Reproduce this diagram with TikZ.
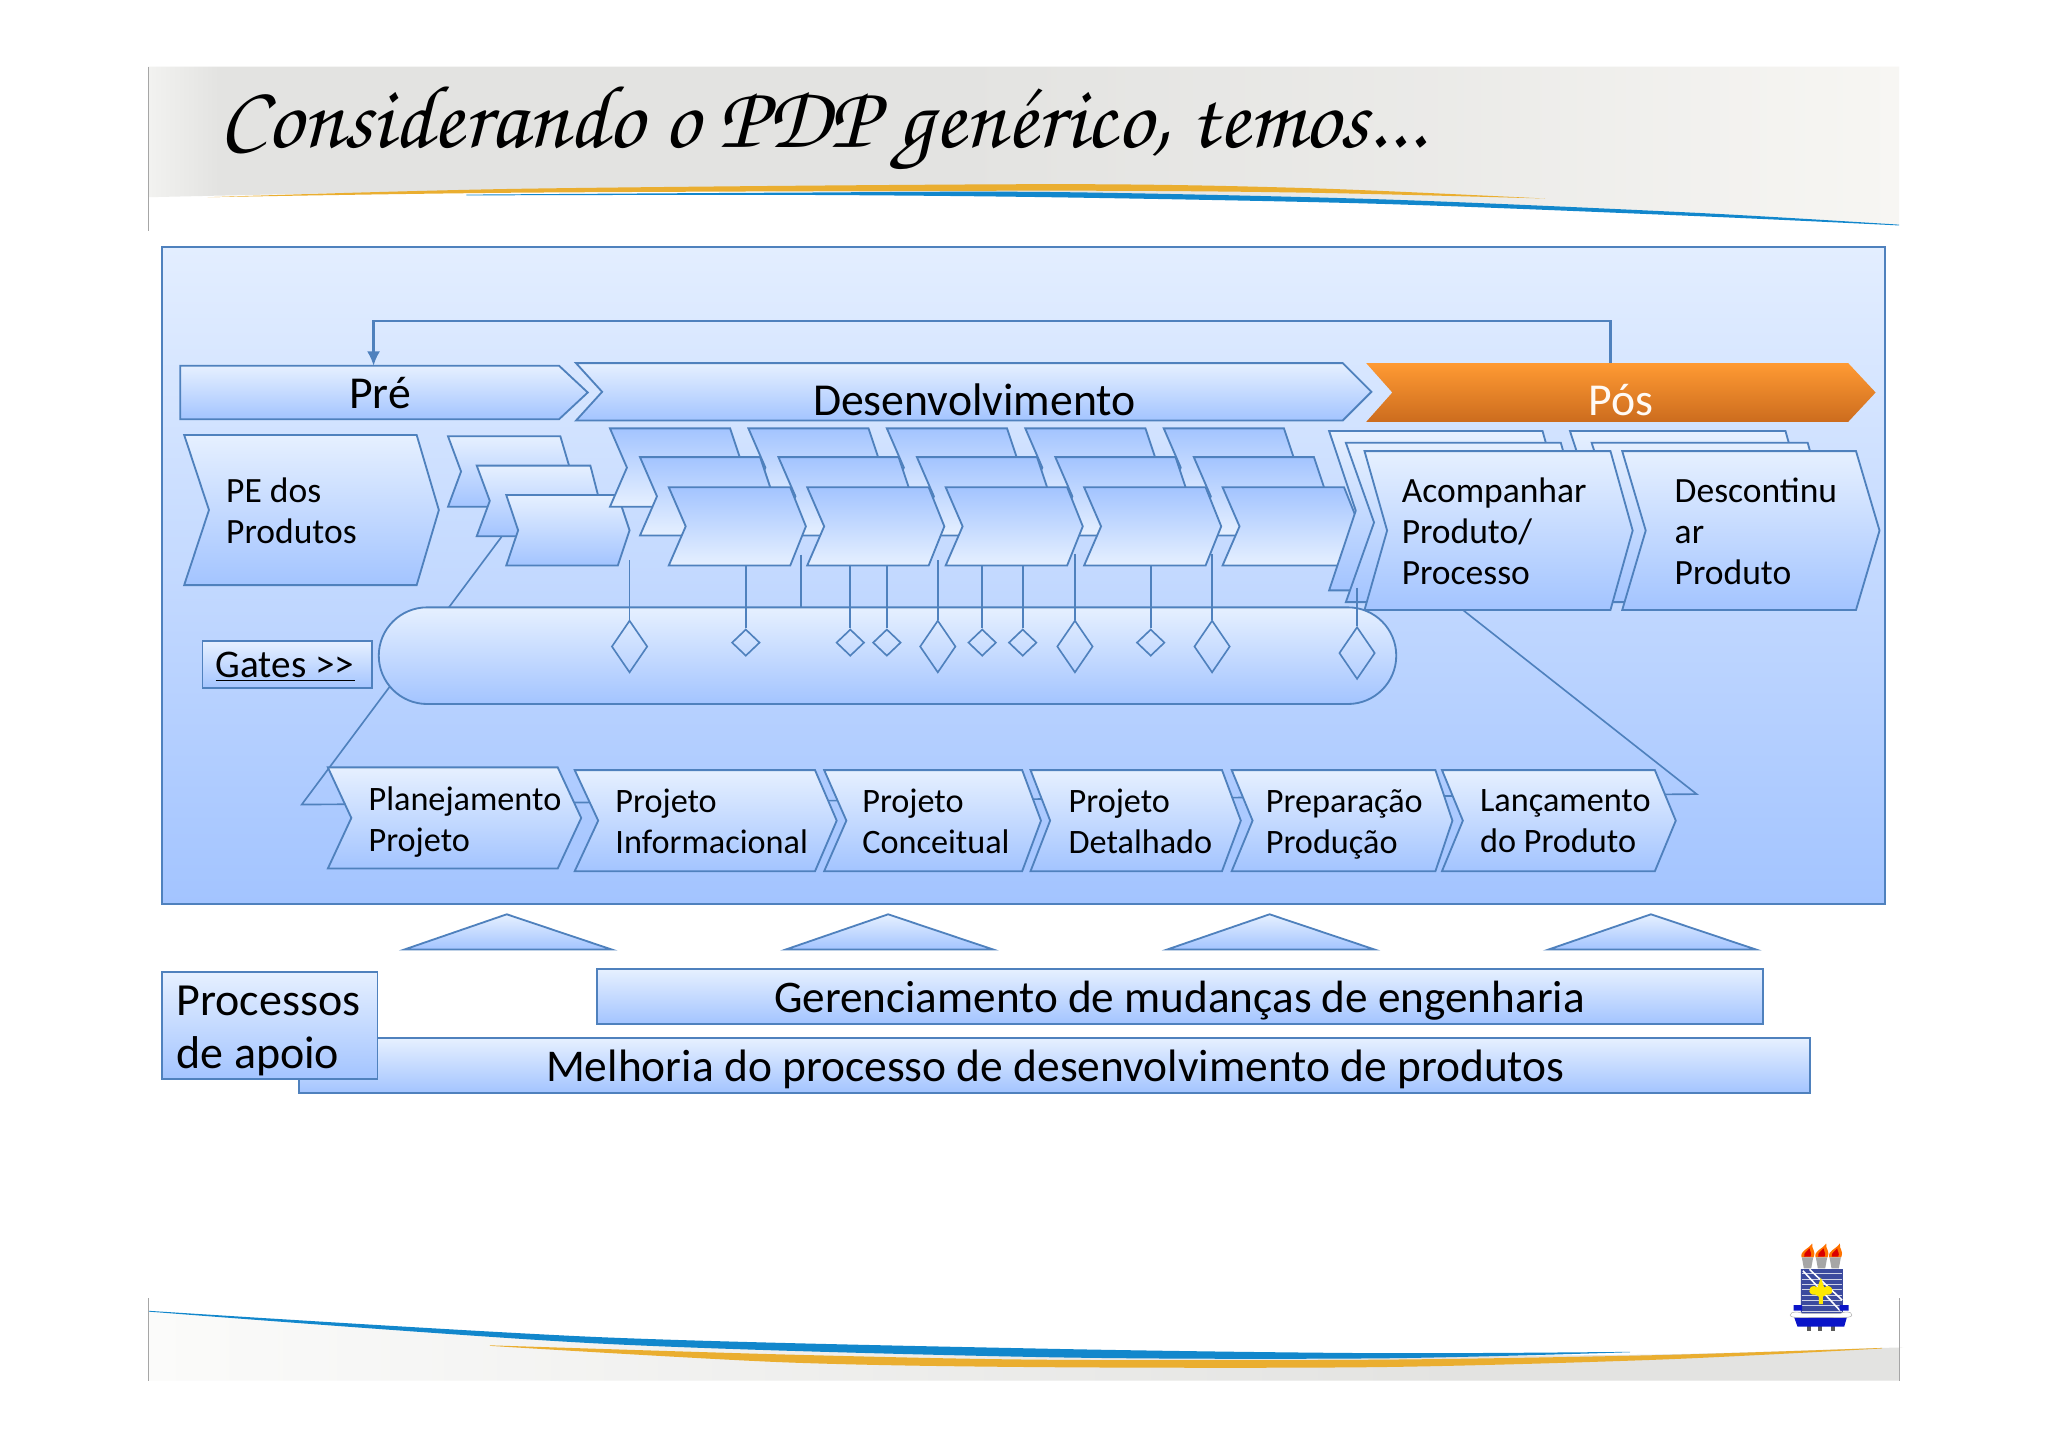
\documentclass[tikz,border=0pt]{standalone}
\usepackage{fontspec}
\setmainfont{Carlito}
\usepackage{graphicx}
\usetikzlibrary{shapes.geometric,arrows.meta,calc}
\definecolor{edge}{HTML}{4F81BD}
\definecolor{gLight}{HTML}{E6F0FF}
\definecolor{gDark}{HTML}{A3C4FF}
\definecolor{panelTop}{HTML}{E3EEFF}
\definecolor{bandA}{HTML}{F2F2F0}
\definecolor{bandLow}{HTML}{FBFBFA}
\definecolor{bandB}{HTML}{E3E3E1}
\definecolor{bandC}{HTML}{F7F6F3}
\definecolor{swBlue}{HTML}{1287CC}
\definecolor{swOrange}{HTML}{EAAE30}
\definecolor{shieldBlue}{HTML}{3B4A9E}
\definecolor{crestBlue}{HTML}{0A14C8}
\definecolor{hotTop}{HTML}{FF9A33}
\definecolor{hotBot}{HTML}{CC6C1E}
\pgfdeclarehorizontalshading{topband}{100bp}{color(0bp)=(bandA);color(25bp)=(bandA);color(27bp)=(bandB);color(48bp)=(bandB);color(62bp)=(bandB!60!bandC);color(75bp)=(bandC);color(100bp)=(bandC)}
\pgfdeclarehorizontalshading{lowband}{100bp}{color(0bp)=(bandLow);color(25bp)=(bandLow);color(45bp)=(bandLow!45!bandB);color(62bp)=(bandB);color(75bp)=(bandB);color(100bp)=(bandB)}
\newcommand{\fsz}[1]{\fontsize{#1}{1.22\dimexpr #1pt\relax}\selectfont}
\tikzset{
  flow/.style={draw=edge,line width=1.4pt,line join=miter,top color=gLight,bottom color=gDark},
  flowrev/.style={draw=edge,line width=1.4pt,top color=gDark,bottom color=gLight},
  flowhot/.style={draw=none,top color=hotTop,bottom color=hotBot},
  thin line/.style={draw=edge,line width=1.25pt},
  small gate/.style={diamond,draw=edge,line width=1.25pt,inner sep=0pt,minimum width=21.5pt,minimum height=20.5pt},
  big gate/.style={diamond,draw=edge,line width=1.25pt,inner sep=0pt,minimum width=27.5pt,minimum height=40pt},
  lbl/.style={inner sep=0pt,anchor=west,align=left,text=black,font=\fontsize{26.2}{31.4}\selectfont},
  lblbig/.style={lbl,font=\fontsize{27.2}{31.4}\selectfont},
  ttl/.style={inner sep=0pt,text=black,font=\fsz{35}},
}
% x0 x1 tip notch top bottom style
\newcommand{\chev}[7]{%
  \pgfmathsetmacro{\ymid}{(#5+#6)/2}%
  \path[#7] (#1,#5) -- (#2,#5) -- (#3,\ymid) -- (#2,#6) -- (#1,#6) -- (#4,\ymid) -- cycle;}
\begin{document}
\begin{tikzpicture}[x=1pt,y=-1pt]
\useasboundingbox (0,0) rectangle (1568,1108);
\fill[white] (0,0) rectangle (1568,1108);

% header band
\path[shading=topband] (114,51) -- (1454,51) -- plot[smooth] coordinates {(1454,172) (1300,163) (1054,153) (804,148) (400,146) (114,151)} -- cycle;
\fill[swOrange] plot[smooth] coordinates {(159,151) (400,144.5) (804,141) (1000,144) (1183,152)} -- plot[smooth] coordinates {(1183,152) (1000,147.5) (804,146) (400,147.5) (159,151)} -- cycle;
\fill[swBlue] plot[smooth] coordinates {(357,149) (600,147.5) (804,147) (1054,152.5) (1300,163) (1454,172)} -- plot[smooth] coordinates {(1454,172.6) (1300,165.5) (1054,156) (804,151) (600,149.2) (357,149.6)} -- cycle;
\draw[gray!70,line width=.8pt] (114,51) -- (114,177);
\node[inner sep=0pt,anchor=base west] (title) at (168,113) {\fontencoding{T1}\fontfamily{pzc}\fontseries{m}\fontshape{it}\fontsize{68.5}{80}\selectfont Considerando o PDP gen\'erico, temos...};

% footer band
\path[shading=lowband] plot[smooth] coordinates {(114,1004) (458,1026) (796,1036) (1054,1038) (1269,1037) (1441,1032) (1454,1032)} -- (1454,1057) -- (114,1057) -- cycle;
\fill[swBlue] plot[smooth] coordinates {(114,1003.6) (458,1023.7) (796,1032.5) (1054,1036) (1248,1035)} -- plot[smooth] coordinates {(1248,1035.3) (1054,1040) (796,1039) (458,1028.6) (114,1004.2)} -- cycle;
\fill[swOrange] plot[smooth] coordinates {(375,1030) (600,1037) (796,1041) (1054,1041) (1269,1037.5) (1441,1032)} -- plot[smooth] coordinates {(1441,1032.4) (1269,1041) (1054,1046.7) (796,1046.7) (600,1043) (375,1030.4)} -- cycle;
\draw[gray!70,line width=.8pt] (114,994) -- (114,1057) (1454,994) -- (1454,1057);

% crest
\begin{scope}[shift={(1301.7,918.8)},x=.2552pt,y=-.2552pt]
  \foreach \c in {322,364,405}{
    \fill[orange!90!red] (\c-18,172) .. controls (\c-22,150) and (\c,150) .. (\c+14,130) .. controls (\c+12,150) and (\c+26,150) .. (\c+18,172) -- cycle;
    \fill[red!85!black] (\c-10,170) .. controls (\c-12,155) and (\c,155) .. (\c+6,145) .. controls (\c+8,158) and (\c+14,158) .. (\c+9,170) -- cycle;
    \fill[gray!70] (\c-17,172) -- (\c+17,172) -- (\c+11,205) -- (\c-11,205) -- cycle;
  }
  \fill[shieldBlue] (302,207) rectangle (428,335) (302,335) -- (428,335) .. controls (428,350) and (400,350) .. (365,350) .. controls (330,350) and (302,350) .. (302,335) -- cycle;
  \foreach \yy in {220,236,252,268,284,300,316,332}{\draw[white!75!shieldBlue,line width=.35pt] (304,\yy) -- (426,\yy);}
  \draw[white,line width=1.2pt] (308,212) -- (420,332) (328,208) -- (426,300);
  \fill[yellow!90!orange] (362,232) -- (372,262) .. controls (398,245) and (408,288) .. (378,284) -- (368,290) -- (368,312) -- (356,312) -- (356,290) -- (346,284) .. controls (316,288) and (326,245) .. (352,262) -- cycle;
  \fill[crestBlue] (280,315) rectangle (306,332) (418,315) rectangle (445,332);
  \foreach \c in {327,360,397}{\fill[gray!70!black] (\c-6,378) rectangle (\c+6,392);}
  \fill[crestBlue] (282,352) -- (440,352) -- (432,380) -- (292,380) -- cycle;
  \fill[white,draw=gray!60,line width=.4pt] (270,345) .. controls (270,332) and (300,335) .. (306,340) -- (420,340) .. controls (430,335) and (455,332) .. (455,345) .. controls (455,355) and (420,352) .. (362,352) .. controls (305,352) and (270,355) .. (270,345) -- cycle;
\end{scope}

% main panel
\path[draw=edge,line width=1.6pt,top color=panelTop,bottom color=gDark] (124,189) rectangle (1443,692);

% feedback connector
\coordinate (posTop) at (1233,278);
\coordinate (preTop) at (286,280);
\draw[draw=edge,line width=1.7pt,-{Latex[length=11pt,width=10pt]}] (posTop) -- (1233,246) -- (286,246) -- (preTop);

% band arrows
\chev{138}{428}{450}{138}{280}{321}{flow}
\chev{441}{1028}{1050}{461}{278}{322}{flow}
\chev{1046}{1415}{1436}{1066}{278}{323}{flowhot}
\node[ttl] (pre) at (291,301) {Pré};
\node[ttl] (dev) at (746,306) {Desenvolvimento};
\node[ttl,text=white!96!orange] (pos) at (1241,306) {Pós};

% funnel lines
\draw[thin line] (384,411) -- (231,616) -- (1299,608) -- (1120,467);

% PE
\chev{141}{319}{336}{160}{333}{448}{flow}
\node[lblbig] (pe) at (173,391) {PE dos\\Produtos};

% first stack
\chev{343}{429}{437}{353}{334}{388}{flow}
\chev{365}{452}{459}{375}{356.5}{410.5}{flow}
\chev{387.6}{473}{482}{396.7}{379}{433}{flow}

% pill
\path[flow,rounded corners=37pt] (290,465) rectangle (1069,539);

% five columns
\foreach \x in {467,573,679,785,891}{\chev{\x}{\x+92}{\x+102}{\x+13}{328}{388}{flowrev}}
\foreach \x in {490,596,702,808,914}{\chev{\x}{\x+92}{\x+102}{\x+13}{350}{410}{flowrev}}
\foreach \x in {512,618,724,830,936}{\chev{\x}{\x+93}{\x+105}{\x+13}{373}{433}{flowrev}}

% post stacks
\chev{1202}{1367}{1384}{1222}{330}{452}{flow}
\chev{1218.6}{1384}{1401}{1238}{339}{461}{flow}
\chev{1017.6}{1181}{1198}{1038}{330}{452}{flow}
\chev{1030.4}{1195}{1212}{1052}{339}{461}{flow}
\chev{1044.7}{1233}{1250}{1062}{345.4}{467}{flow}
\chev{1242}{1421}{1439}{1260}{345.4}{467}{flow}
\node[lblbig] (acomp) at (1073,407) {Acompanhar\\Produto/\\Processo};
\node[lblbig] (desc) at (1282,407) {Descontinu\\ar\\Produto};

% gates
\foreach \n/\cx/\cy/\ty/\kind in {a/482/495/429/big gate,b/571/492/433/small gate,c/651/492/433/small gate,d/679/492/433/small gate,e/718/495/429/big gate,f/752/492/433/small gate,g/783/492/433/small gate,h/823/495/424/big gate,i/881/492/433/small gate,j/928/495/424/big gate,k/1039/500/450/big gate}{
  \node[\kind] (d\n) at (\cx,\cy) {};
  \coordinate (s\n) at (\cx,\ty);
  \draw[thin line] (s\n) -- (d\n);
}
\coordinate (stemTop) at (613.4,424.6);
\coordinate (stemEnd) at (613.4,465);
\draw[thin line] (stemTop) -- (stemEnd);

% gates label
\path[flow] (155,491) rectangle (285,527);
\node[inner sep=0pt,anchor=base west,font=\fsz{30}] (gates) at (165,519) {Gates >{}>};
\coordinate (ulA) at (165,521);
\coordinate (ulB) at (272,521);
\draw[black,line width=.7pt] (ulA) -- (ulB);

% bottom row
\chev{251}{427}{445}{269}{587.5}{665}{flow}
\chev{440}{624}{640.6}{458}{589.6}{667}{flow}
\chev{631}{782.6}{797}{648}{589.6}{667}{flow}
\chev{789}{935.6}{950}{804}{589.6}{667}{flow}
\chev{943}{1099}{1112}{959}{589.6}{667}{flow}
\chev{1104}{1267}{1283}{1120}{589.6}{667}{flow}
\node[lbl] (n1) at (282,629) {Planejamento\\Projeto};
\node[lbl] (n2) at (471,629) {Projeto\\Informacional};
\node[lbl] (n3) at (660,629) {Projeto\\Conceitual};
\node[lbl] (n4) at (818,629) {Projeto\\Detalhado};
\node[lbl] (n5) at (969,631) {Preparação\\Produção};
\node[lbl] (n6) at (1133,629) {Lançamento\\do Produto};

% triangles
\foreach \x in {307,599,891,1183}{\path[flow] (\x+2.5,727) -- (\x+81,700) -- (\x+161.5,727) -- cycle;}

% support processes
\path[flow] (229,795) rectangle (1386,837);
\path[flow] (457,742) rectangle (1350,784);
\path[flow] (124,744) rectangle (289,826);
\node[ttl,font=\fsz{34.6}] (ger) at (903,766) {Gerenciamento de mudanças de engenharia};
\node[ttl,font=\fsz{34.8}] (mel) at (808,819) {Melhoria do processo de desenvolvimento de produtos};
\node[lbl,font=\fontsize{35.2}{40.5}\selectfont] (proc) at (135,789) {Processos\\de apoio};
\end{tikzpicture}
\end{document}
